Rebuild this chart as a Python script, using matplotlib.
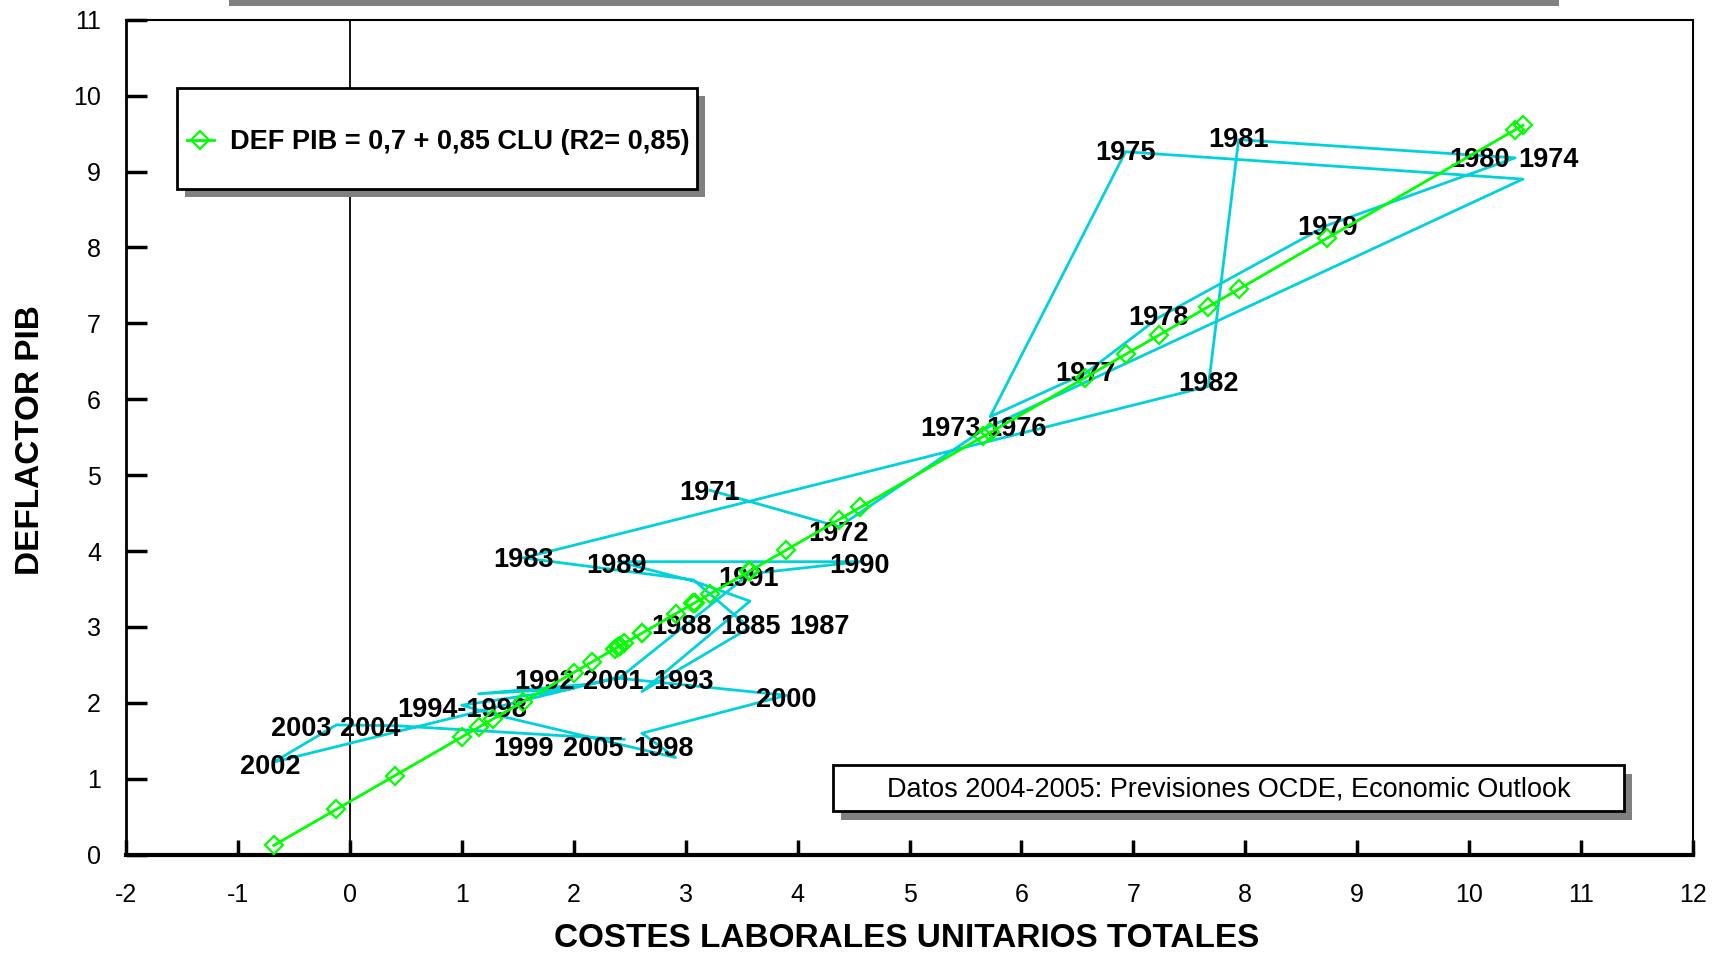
import numpy as np
import matplotlib
matplotlib.use("Agg")
import matplotlib.pyplot as plt
from matplotlib.patches import Rectangle

plt.rcParams['font.family'] = ['Liberation Sans', 'DejaVu Sans']
plt.rcParams['axes.unicode_minus'] = False

# yearly observations 1971-2005 (x: unit labour costs, y: GDP deflator)
years = list(range(1971, 2006))
clu = [3.22, 4.37, 5.66, 10.48, 6.93, 5.72, 6.57, 7.23, 8.73, 10.41,
       7.94, 7.67, 1.55, 3.07, 3.57, 2.61, 3.575, 3.08, 2.40, 4.56,
       3.57, 2.41, 2.16, 1.15, 2.00, 1.00, 1.28, 2.91, 2.61, 3.90,
       2.37, -0.68, -0.12, 0.40, 2.45]
deflactor = [4.80, 4.32, 5.60, 8.90, 9.26, 5.77, 6.34, 7.08, 8.29, 9.18,
             9.42, 6.17, 3.91, 3.62, 2.99, 2.15, 3.34, 3.60, 3.86, 3.86,
             3.70, 2.33, 2.25, 2.12, 2.19, 1.97, 1.85, 1.28, 1.60, 2.10,
             2.33, 1.22, 1.71, 1.70, 1.52]

# regression shown in the legend
intercept, slope = 0.7, 0.85
legend_label = 'DEF PIB = 0,7 + 0,85 CLU (R2= 0,85)'
note_text = 'Datos 2004-2005: Previsiones OCDE, Economic Outlook'

# year labels and where they sit on the chart
label_text = ['1971', '1972', '1973', '1976', '1975', '1981', '1980', '1974',
              '1979', '1978', '1977', '1982', '1983', '1989', '1990', '1991',
              '1988', '1885', '1987', '1992', '2001', '1993', '2000',
              '1994-1998', '2003', '2004', '2002', '1999', '2005', '1998']
label_x = [3.21, 4.37, 5.37, 5.96, 6.93, 7.94, 10.09, 10.71,
           8.73, 7.22, 6.57, 7.67, 1.55, 2.38, 4.55, 3.56,
           2.96, 3.58, 4.20, 1.74, 2.35, 2.98, 3.90,
           1.00, -0.43, 0.18, -0.71, 1.55, 2.175, 2.80]
label_y = [4.76, 4.22, 5.61, 5.61, 9.25, 9.42, 9.15, 9.15,
           8.25, 7.07, 6.33, 6.20, 3.88, 3.80, 3.80, 3.63,
           3.00, 3.00, 3.00, 2.27, 2.27, 2.27, 2.04,
           1.90, 1.65, 1.65, 1.16, 1.39, 1.39, 1.39]

cyan = '#00D2DC'
green = '#00FF00'

fig = plt.figure(figsize=(17.18, 9.55), dpi=100)
ax = fig.add_axes([0.0733, 0.105, 0.9122, 0.8744])

ax.axvline(0, color='black', lw=1.3, zorder=1)
ax.plot(clu, deflactor, color=cyan, lw=2.0, zorder=2)

xs = np.sort(np.array(clu))
fit, = ax.plot(xs, intercept + slope * xs, color=green, lw=2.0, marker='D',
               ms=9.5, mfc='none', mec=green, mew=1.6, zorder=3)

for t, x, y in zip(label_text, label_x, label_y):
    ax.text(x, y, t, ha='center', va='center', fontsize=19.5,
            fontweight='bold', zorder=2.5)

ax.set_xlim(-2, 12)
ax.set_ylim(0, 11)
ax.set_xticks(range(-2, 13))
ax.set_yticks(range(0, 12))
ax.tick_params(direction='in', width=2.5, labelsize=18)
ax.tick_params(axis='x', length=11, pad=20)
ax.tick_params(axis='y', length=15, pad=18)
ax.spines['bottom'].set_linewidth(3)
ax.spines['left'].set_linewidth(2)
ax.spines['top'].set_linewidth(1.5)
ax.spines['right'].set_linewidth(1.5)

fig.text(0.5278, 0.0168, 'COSTES LABORALES UNITARIOS TOTALES', ha='center',
         va='center', fontsize=24, fontweight='bold')
fig.text(0.0175, 0.5387, 'DEFLACTOR PIB', ha='center', va='center',
         rotation=90, fontsize=24, fontweight='bold')

# legend box with drop shadow
lx0, lx1, ly0, ly1 = 0.0329, 0.3643, 0.7978, 0.9186
ax.add_patch(Rectangle((lx0 + 0.005, ly0 - 0.0105), lx1 - lx0, ly1 - ly0,
                       transform=ax.transAxes, facecolor='#808080',
                       edgecolor='none', zorder=5, clip_on=False))
ax.add_patch(Rectangle((lx0, ly0), lx1 - lx0, ly1 - ly0,
                       transform=ax.transAxes, facecolor='white',
                       edgecolor='black', lw=2, zorder=5.1, clip_on=False))
leg = ax.legend([fit], [legend_label], loc='center left',
                bbox_to_anchor=(0.032, 0.853), frameon=False,
                prop={'weight': 'bold', 'size': 19.5}, handlelength=1.0,
                handletextpad=0.6, borderaxespad=0)
leg.set_zorder(6)

# note box with drop shadow
nx0, nx1, ny0, ny1 = 0.451, 0.956, 0.0525, 0.1076
ax.add_patch(Rectangle((nx0 + 0.005, ny0 - 0.0105), nx1 - nx0, ny1 - ny0,
                       transform=ax.transAxes, facecolor='#808080',
                       edgecolor='none', zorder=5, clip_on=False))
ax.add_patch(Rectangle((nx0, ny0), nx1 - nx0, ny1 - ny0,
                       transform=ax.transAxes, facecolor='white',
                       edgecolor='black', lw=2, zorder=5.1, clip_on=False))
ax.text((nx0 + nx1) / 2, (ny0 + ny1) / 2 - 0.002, note_text,
        transform=ax.transAxes, ha='center', va='center', fontsize=19.5,
        zorder=6)

# shadow of the title box cut off at the top edge
fig.patches.append(Rectangle((0.1333, 0.9942), 0.774, 0.01,
                             transform=fig.transFigure, facecolor='#808080',
                             edgecolor='none'))

fig.savefig('out.png', dpi=100)
